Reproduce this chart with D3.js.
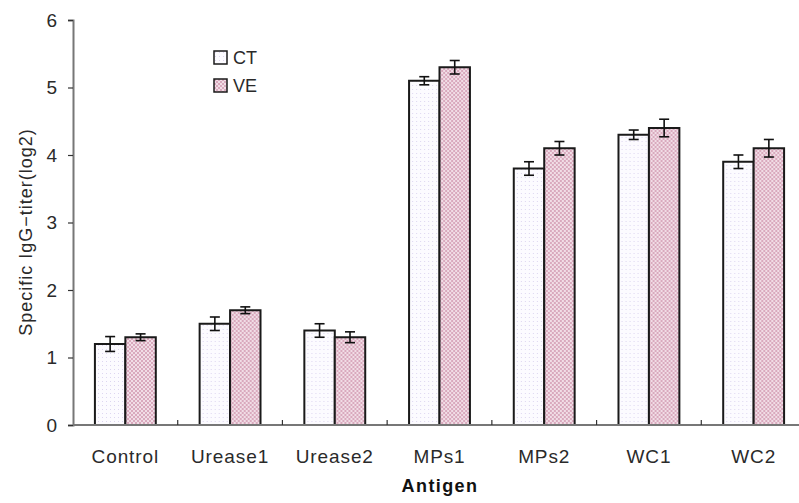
<!DOCTYPE html>
<html>
<head>
<meta charset="utf-8">
<script src="https://cdn.jsdelivr.net/npm/d3@7"></script>
<style>
  body { margin: 0; background: #fff; }
  svg { display: block; font-family: "Liberation Sans", Arial, sans-serif; }
</style>
</head>
<body>
<script>
// chart data
var antigens = ["Control", "Urease1", "Urease2", "MPs1", "MPs2", "WC1", "WC2"];
var groups = ["CT", "VE"];
var ctValues = [1.2, 1.5, 1.4, 5.1, 3.8, 4.3, 3.9];
var veValues = [1.3, 1.7, 1.3, 5.3, 4.1, 4.4, 4.1];
var ctErrors = [0.11, 0.1, 0.1, 0.06, 0.1, 0.07, 0.1];
var veErrors = [0.05, 0.05, 0.08, 0.1, 0.1, 0.13, 0.13];
var yTicks = [0, 1, 2, 3, 4, 5, 6];

var width = 799, height = 503;
var margin = {left: 73, top: 20, bottom: 78};

var svg = d3.select("body").append("svg")
    .attr("width", width)
    .attr("height", height);

// fill patterns: dotted for CT, checkered for VE
var defs = svg.append("defs");
var pCT = defs.append("pattern")
    .attr("id", "patCT")
    .attr("patternUnits", "userSpaceOnUse")
    .attr("width", 4).attr("height", 4);
pCT.append("rect").attr("width", 4).attr("height", 4).attr("fill", "#fcfbff");
pCT.append("rect").attr("x", 1).attr("y", 1).attr("width", 1).attr("height", 1).attr("fill", "#ddd6f0");

var pVE = defs.append("pattern")
    .attr("id", "patVE")
    .attr("patternUnits", "userSpaceOnUse")
    .attr("width", 4).attr("height", 4);
pVE.append("rect").attr("width", 4).attr("height", 4).attr("fill", "#f1dde6");
pVE.append("rect").attr("x", 0).attr("y", 0).attr("width", 2).attr("height", 2).attr("fill", "#d9a9bd");
pVE.append("rect").attr("x", 2).attr("y", 2).attr("width", 2).attr("height", 2).attr("fill", "#d9a9bd");

var fills = {CT: "url(#patCT)", VE: "url(#patVE)"};

// scales
var x0 = d3.scaleBand()
    .domain(antigens)
    .range([margin.left, 806])
    .paddingInner(0)
    .paddingOuter(0);

var x1 = d3.scaleBand()
    .domain(groups)
    .range([0, x0.bandwidth()])
    .paddingInner(0)
    .paddingOuter(0.72);

var y = d3.scaleLinear()
    .domain([0, 6])
    .range([height - margin.bottom, margin.top]);

var data = antigens.map(function(a, i) {
    return {
        antigen: a,
        vals: [
            {g: "CT", v: ctValues[i], e: ctErrors[i]},
            {g: "VE", v: veValues[i], e: veErrors[i]}
        ]
    };
});

// bars
var grp = svg.selectAll(".grp")
    .data(data)
    .enter().append("g")
    .attr("class", "grp")
    .attr("transform", function(d) { return "translate(" + x0(d.antigen) + ",0)"; });

grp.selectAll("rect")
    .data(function(d) { return d.vals; })
    .enter().append("rect")
    .attr("x", function(d) { return x1(d.g); })
    .attr("y", function(d) { return y(d.v); })
    .attr("width", x1.bandwidth())
    .attr("height", function(d) { return y(0) - y(d.v); })
    .attr("fill", function(d) { return fills[d.g]; })
    .attr("stroke", "#1a1a1a")
    .attr("stroke-width", 2);

// error bars
var eb = grp.selectAll(".err")
    .data(function(d) { return d.vals; })
    .enter().append("g")
    .attr("class", "err")
    .attr("stroke", "#111")
    .attr("stroke-width", 1.6);

eb.append("line")
    .attr("x1", function(d) { return x1(d.g) + x1.bandwidth() / 2; })
    .attr("x2", function(d) { return x1(d.g) + x1.bandwidth() / 2; })
    .attr("y1", function(d) { return y(d.v + d.e); })
    .attr("y2", function(d) { return y(d.v - d.e); });
eb.append("line")
    .attr("x1", function(d) { return x1(d.g) + x1.bandwidth() / 2 - 5; })
    .attr("x2", function(d) { return x1(d.g) + x1.bandwidth() / 2 + 5; })
    .attr("y1", function(d) { return y(d.v + d.e); })
    .attr("y2", function(d) { return y(d.v + d.e); });
eb.append("line")
    .attr("x1", function(d) { return x1(d.g) + x1.bandwidth() / 2 - 5; })
    .attr("x2", function(d) { return x1(d.g) + x1.bandwidth() / 2 + 5; })
    .attr("y1", function(d) { return y(d.v - d.e); })
    .attr("y2", function(d) { return y(d.v - d.e); });

// y axis
var gY = svg.append("g")
    .attr("transform", "translate(" + margin.left + ",0)")
    .call(d3.axisLeft(y).tickValues(yTicks).tickSize(5).tickPadding(11).tickFormat(d3.format("d")));
gY.select(".domain").attr("stroke", "#777").attr("stroke-width", 2);
gY.selectAll(".tick line").attr("stroke", "#333").attr("stroke-width", 1.2);
gY.selectAll(".tick text").attr("font-size", 19).attr("fill", "#2a2a2a")
    .attr("font-family", "Liberation Sans, Arial, sans-serif");

// x axis (ticks between categories, pointing up)
var gX = svg.append("g")
    .attr("transform", "translate(0," + y(0) + ")");
gX.append("line")
    .attr("x1", margin.left).attr("x2", 806)
    .attr("stroke", "#777").attr("stroke-width", 2);
gX.selectAll(".sep")
    .data(antigens.slice(1))
    .enter().append("line")
    .attr("x1", function(d) { return x0(d); })
    .attr("x2", function(d) { return x0(d); })
    .attr("y1", 0).attr("y2", -5)
    .attr("stroke", "#333").attr("stroke-width", 1.2);
gX.selectAll(".lbl")
    .data(antigens)
    .enter().append("text")
    .attr("x", function(d) { return x0(d) + x0.bandwidth() / 2; })
    .attr("y", 38)
    .attr("text-anchor", "middle")
    .attr("font-size", 19)
    .attr("letter-spacing", 0.9)
    .attr("fill", "#2a2a2a")
    .text(function(d) { return d; });

// axis titles
svg.append("text")
    .attr("x", 440)
    .attr("y", 492)
    .attr("text-anchor", "middle")
    .attr("font-size", 18)
    .attr("font-weight", "bold")
    .attr("letter-spacing", 1.4)
    .attr("fill", "#111")
    .text("Antigen");

svg.append("text")
    .attr("transform", "translate(32,232) rotate(-90)")
    .attr("text-anchor", "middle")
    .attr("font-size", 18)
    .attr("letter-spacing", 1)
    .attr("fill", "#2a2a2a")
    .text("Specific IgG\u2212titer(log2)");

// legend
var leg = svg.selectAll(".leg")
    .data(groups)
    .enter().append("g")
    .attr("class", "leg")
    .attr("transform", function(d, i) { return "translate(214," + (51 + i * 28) + ")"; });
leg.append("rect")
    .attr("width", 13).attr("height", 13)
    .attr("fill", function(d) { return fills[d]; })
    .attr("stroke", "#1a1a1a").attr("stroke-width", 1.5);
leg.append("text")
    .attr("x", 19).attr("y", 13)
    .attr("font-size", 18)
    .attr("fill", "#2a2a2a")
    .text(function(d) { return d; });
</script>
</body>
</html>
